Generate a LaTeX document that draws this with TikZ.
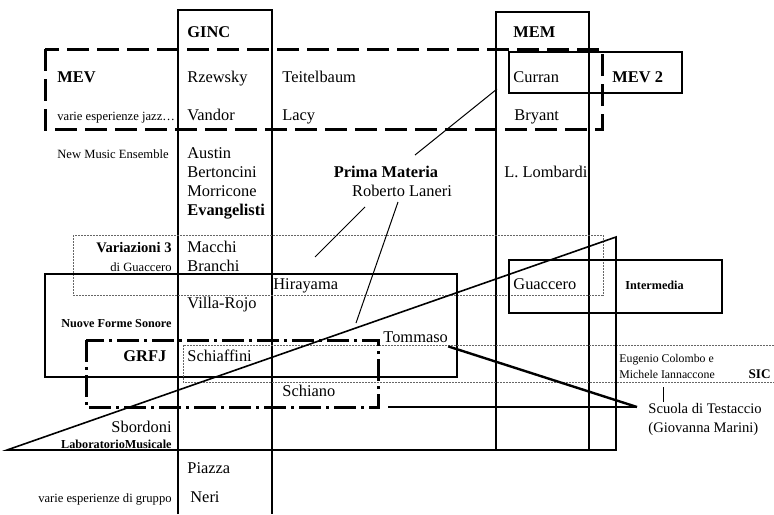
\documentclass[tikz,border=0pt]{standalone}
\usepackage{fontspec}
\setmainfont{Liberation Serif}
\tikzset{
  lbl/.style={anchor=west,inner sep=0pt,text height=0.7em,text depth=0.2em,font=\fontsize{8.2}{10}\selectfont},
  lblbf/.style={lbl,font=\fontsize{8.2}{10}\selectfont\bfseries},
  midbf/.style={lbl,font=\fontsize{7.3}{9}\selectfont\bfseries},
  mid/.style={lbl,font=\fontsize{7.3}{9}\selectfont},
  small/.style={lbl,font=\fontsize{6.3}{8}\selectfont},
  smallbf/.style={lbl,font=\fontsize{6.1}{8}\selectfont\bfseries},
  column/.style={line width=0.65pt},
  jazzbox/.style={line width=1.5pt,dash pattern=on 11pt off 4pt},
  fjbox/.style={line width=1.5pt,dash pattern=on 11pt off 2.5pt on 1.5pt off 2.5pt},
  dotbox/.style={line width=0.5pt,black!60,dash pattern=on 1pt off 0.5pt},
  link/.style={line width=0.5pt},
  thick link/.style={line width=1.2pt}
}
\begin{document}
\begin{tikzpicture}[x=0.5pt,y=-0.5pt]
\useasboundingbox (0,0) rectangle (774,514);
% columns
\draw[column] (178,514) |- (272,10) -- (272,514);
\draw[column] (496,12) rectangle (589,450);
% groups
\draw[jazzbox] (45,49) rectangle (602,129);
\draw[column] (509,52) rectangle (682,93);
\draw[dotbox] (73,235) rectangle (603,295);
\draw[column] (45,274) rectangle (457,377);
\draw[dotbox] (774,345) -| (183,382) -- (774,382);
\draw[fjbox] (86,340) rectangle (378,407);
\draw[column] (509,260) rectangle (722,313);
\draw[line width=0.8pt] (7,450) -- (616,237) -- (616,450) -- cycle;

% labels
\node[lblbf] (ginc) at (187,32) {GINC};
\node[lblbf] (mem) at (513,32) {MEM};
\node[lblbf] (mev) at (57,77) {MEV};
\node[small] (jazz) at (57,115) {varie esperienze jazz\ldots};
\node[lbl] (rzewsky) at (187,77) {Rzewsky};
\node[lbl] (teitelbaum) at (282,77) {Teitelbaum};
\node[lbl] (curran) at (513,77) {Curran};
\node[lblbf] (mev2) at (612,77) {MEV 2};
\node[lbl] (vandor) at (187,115) {Vandor};
\node[lbl] (lacy) at (282,115) {Lacy};
\node[lbl] (bryant) at (514,115) {Bryant};
\node[small] (nme) at (57,153) {New Music Ensemble};
\node[lbl] (austin) at (187,153) {Austin};
\node[lbl] (bertoncini) at (187,172) {Bertoncini};
\node[lbl] (morricone) at (187,191) {Morricone};
\node[lblbf] (evangelisti) at (187,210) {Evangelisti};
\node[lblbf,anchor=center] (prima) at (386,172) {Prima Materia};
\node[lbl,anchor=center] (laneri) at (402,191) {Roberto Laneri};
\node[lbl] (lombardi) at (504,172) {L. Lombardi};
\node[midbf,anchor=east] (var3) at (172,247) {Variazioni 3};
\node[small,anchor=east] (diguaccero) at (172,266) {di Guaccero};
\node[lbl] (macchi) at (187,247) {Macchi};
\node[lbl] (branchi) at (187,266) {Branchi};
\node[lbl] (hirayama) at (273,284) {Hirayama};
\node[lbl] (villarojo) at (187,303) {Villa-Rojo};
\node[smallbf,anchor=east] (nfs) at (172,322) {Nuove Forme Sonore};
\node[lblbf] (grfj) at (123,356) {GRFJ};
\node[lbl] (schiaffini) at (187,356) {Schiaffini};
\node[lbl] (tommaso) at (383,337) {Tommaso};
\node[lbl] (schiano) at (282,391) {Schiano};
\node[lbl] (guaccero) at (513,284) {Guaccero};
\node[smallbf] (intermedia) at (625,284) {Intermedia};
\node[small,font=\fontsize{5.9}{7}\selectfont] (colombo) at (619,357) {Eugenio Colombo e};
\node[small,font=\fontsize{5.9}{7}\selectfont] (iannaccone) at (619,373) {Michele Iannaccone};
\node[smallbf,anchor=east,font=\fontsize{6.6}{8}\selectfont\bfseries] (sic) at (771,373) {SIC};
\node[mid] (scuola) at (648,408) {Scuola di Testaccio};
\node[mid] (marini) at (648,427) {(Giovanna Marini)};
\node[lbl,anchor=east] (sbordoni) at (172,427) {Sbordoni};
\node[smallbf,anchor=east] (labmus) at (172,443) {LaboratorioMusicale};
\node[lbl] (piazza) at (187,468) {Piazza};
\node[lbl] (neri) at (190,497) {Neri};
\node[small,anchor=east] (gruppo) at (172,497) {varie esperienze di gruppo};

% connectors
\coordinate (pmA) at (415,155);
\coordinate (pmB) at (497,89);
\coordinate (pmC) at (365,207);
\coordinate (pmD) at (315,257);
\coordinate (rlA) at (398,202);
\coordinate (rlB) at (356,323);
\coordinate (testaccio) at (637,407);
\coordinate (schianoEnd) at (388,407);
\coordinate (sicA) at (663,387);
\coordinate (sicB) at (663,402);
\draw[link] (pmA) -- (pmB);
\draw[link] (pmC) -- (pmD);
\draw[link] (rlA) -- (rlB);
\draw[thick link] (tommaso.south east) -- (testaccio);
\draw[thick link] (schianoEnd) -- (testaccio);
\draw[link] (sicA) -- (sicB);
\end{tikzpicture}
\end{document}
